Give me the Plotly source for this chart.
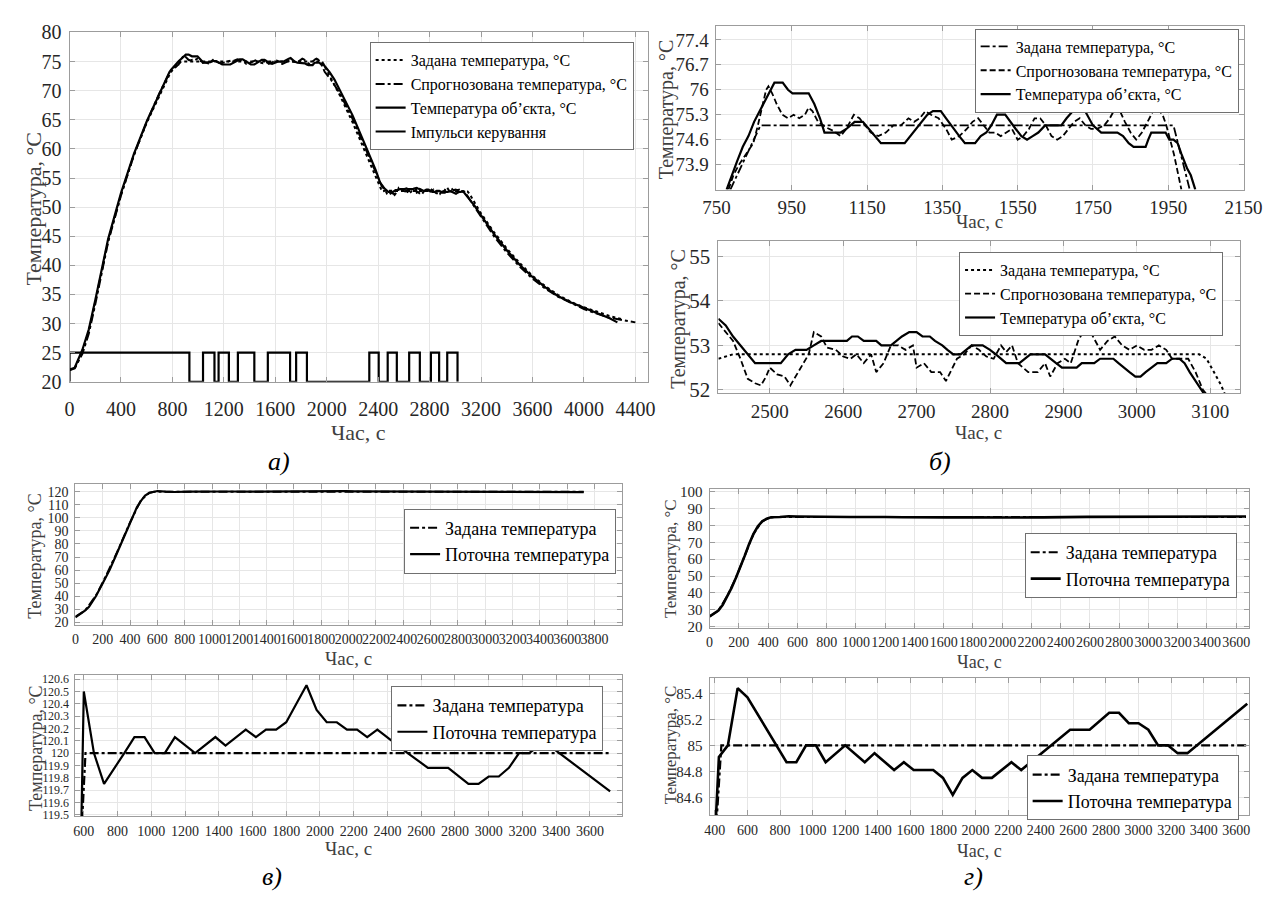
import plotly.graph_objects as go

W, H = 1282, 904
FONT = "Liberation Serif, Times New Roman, DejaVu Serif, serif"

# ---------------- Panel б (top): plateau at 75 °C ----------------
b1_obj_t = [777, 790, 805, 820, 835, 850, 865, 880, 895, 904, 926, 940, 952, 995, 1010, 1025, 1037,
            1080, 1095, 1117, 1139, 1155, 1170, 1187, 1250, 1265, 1280, 1295, 1310, 1325, 1346, 1360,
            1375, 1395, 1410, 1437, 1452, 1467, 1480, 1495, 1517, 1530, 1545, 1560, 1575, 1590, 1605,
            1623, 1666, 1680, 1695, 1705, 1719, 1735, 1750, 1772, 1815, 1830, 1845, 1858, 1890, 1897,
            1905, 1943, 1953, 1964, 1975, 1985, 2000, 2010, 2022]
b1_obj_v = [73.2, 73.6, 74.0, 74.4, 74.7, 75.1, 75.4, 75.7, 76.0, 76.2, 76.2, 76.0, 75.9, 75.9, 75.6,
            75.2, 74.8, 74.8, 74.9, 75.1, 75.1, 74.9, 74.7, 74.5, 74.5, 74.7, 74.9, 75.1, 75.3, 75.4,
            75.4, 75.2, 75.0, 74.7, 74.5, 74.5, 74.7, 74.8, 75.0, 75.3, 75.3, 75.1, 74.9, 74.7, 74.6,
            74.7, 74.8, 75.0, 75.0, 75.2, 75.4, 75.5, 75.6, 75.3, 75.0, 74.8, 74.8, 74.7, 74.5, 74.4,
            74.4, 74.6, 74.8, 74.8, 74.6, 74.6, 74.5, 74.2, 73.8, 73.6, 73.2]
b1_pred_t = [782, 795, 810, 830, 848, 860, 872, 882, 888, 898, 910, 925, 940, 955, 970, 985, 995, 1005,
             1020, 1040, 1060, 1080, 1095, 1115, 1130, 1145, 1160, 1180, 1200, 1220, 1240, 1260, 1275,
             1290, 1305, 1320, 1340, 1360, 1375, 1395, 1415, 1430, 1445, 1460, 1475, 1490, 1505, 1520,
             1535, 1550, 1565, 1580, 1595, 1610, 1625, 1640, 1655, 1670, 1685, 1700, 1715, 1730, 1745,
             1760, 1780, 1795, 1810, 1822, 1835, 1850, 1865, 1880, 1895, 1910, 1920, 1935, 1945, 1955,
             1965, 1975, 1985]
b1_pred_v = [73.2, 73.6, 73.9, 74.2, 74.5, 75.0, 75.6, 76.0, 76.1, 75.9, 75.6, 75.3, 75.2, 75.3, 75.2,
             75.3, 75.5, 75.4, 75.1, 74.95, 74.85, 74.7, 74.9, 75.3, 75.2, 75.0, 74.8, 74.7, 74.8, 75.0,
             75.0, 75.2, 75.1, 75.2, 75.4, 75.3, 75.2, 74.9, 74.6, 74.7, 74.9, 75.1, 75.2, 75.0, 74.8,
             74.8, 74.7, 74.8, 74.9, 74.6, 74.7, 74.9, 75.2, 75.2, 75.0, 74.7, 74.6, 74.7, 74.9, 75.1,
             75.2, 75.0, 74.9, 74.9, 75.0, 75.2, 75.5, 75.4, 75.1, 74.8, 74.6, 74.8, 75.1, 75.4, 75.5,
             75.3, 75.0, 74.6, 74.2, 73.7, 73.2]
b1_set_t = [787, 867, 1964, 2007]
b1_set_v = [73.2, 75.0, 75.0, 73.2]

# ---------------- Panel б (bottom): plateau at 52.8 °C ----------------
b2_obj_t = [2430, 2440, 2450, 2460, 2470, 2480, 2515, 2525, 2535, 2550, 2560, 2570, 2605, 2612, 2620,
            2628, 2645, 2652, 2665, 2672, 2680, 2690, 2700, 2708, 2718, 2725, 2735, 2742, 2750, 2760,
            2768, 2775, 2790, 2800, 2808, 2815, 2822, 2840, 2848, 2855, 2875, 2882, 2890, 2898, 2918,
            2925, 2942, 2950, 2968, 2975, 2982, 2990, 2998, 3005, 3012, 3020, 3028, 3040, 3048, 3058,
            3065, 3072, 3080, 3088, 3092]
b2_obj_v = [53.6, 53.45, 53.2, 53.0, 52.8, 52.6, 52.6, 52.8, 52.9, 52.9, 53.0, 53.1, 53.1, 53.2, 53.2,
            53.1, 53.1, 53.0, 53.0, 53.1, 53.2, 53.3, 53.3, 53.2, 53.2, 53.1, 53.0, 52.9, 52.8, 52.8,
            52.9, 53.0, 53.0, 52.9, 52.8, 52.7, 52.6, 52.6, 52.7, 52.8, 52.8, 52.7, 52.6, 52.5, 52.5,
            52.6, 52.6, 52.7, 52.7, 52.6, 52.5, 52.4, 52.3, 52.3, 52.4, 52.5, 52.6, 52.6, 52.7, 52.7,
            52.6, 52.4, 52.2, 52.0, 51.9]
b2_pred_t = [2430, 2440, 2450, 2460, 2470, 2480, 2488, 2495, 2500, 2510, 2520, 2528, 2535, 2545, 2553,
             2560, 2570, 2578, 2590, 2600, 2610, 2618, 2628, 2638, 2645, 2655, 2665, 2675, 2685, 2695,
             2700, 2710, 2720, 2732, 2740, 2755, 2765, 2775, 2785, 2795, 2805, 2815, 2822, 2830, 2838,
             2845, 2852, 2865, 2875, 2882, 2892, 2902, 2910, 2920, 2930, 2937, 2950, 2960, 2970, 2980,
             2990, 3000, 3010, 3020, 3030, 3040, 3048, 3070, 3080, 3090, 3095]
b2_pred_v = [53.5, 53.3, 53.1, 52.7, 52.25, 52.15, 52.1, 52.3, 52.5, 52.35, 52.3, 52.1, 52.3, 52.6, 52.8,
             53.3, 53.2, 52.95, 52.9, 52.75, 52.7, 52.8, 52.6, 52.8, 52.4, 52.6, 53.0, 53.0, 52.9, 53.0,
             52.5, 52.6, 52.4, 52.4, 52.2, 52.7, 52.8, 53.0, 52.9, 52.75, 52.7, 53.0, 52.85, 53.0, 52.6,
             52.5, 52.4, 52.4, 52.6, 52.3, 52.6, 52.7, 52.6, 53.1, 53.4, 53.3, 52.9, 53.1, 53.2, 53.0,
             52.9, 53.0, 52.9, 52.9, 53.0, 52.9, 52.7, 52.7, 52.4, 52.0, 51.9]
b2_set_t = [2430, 2450, 3085, 3095, 3105, 3115, 3120]
b2_set_v = [52.7, 52.8, 52.8, 52.7, 52.4, 52.1, 51.9]

# ---------------- Panel а: whole experiment ----------------
a_obj_ramp_t = [0, 40, 100, 150, 200, 250, 300, 400, 500, 600, 700, 760]
a_obj_ramp_v = [22.1, 22.4, 25.5, 29.0, 34.0, 39.5, 44.5, 52.4, 59.1, 64.7, 69.5, 72.5]
a_obj_desc_t = [2060, 2100, 2200, 2300, 2380, 2415]
a_obj_desc_v = [71.9, 70.2, 65.8, 60.6, 56.4, 54.2]
a_obj_tail_t = [3150, 3200, 3300, 3400, 3500, 3600, 3700, 3800, 3900, 4000, 4100, 4200, 4260]
a_obj_tail_v = [50.2, 48.6, 45.4, 42.6, 40.1, 38.0, 36.2, 34.7, 33.6, 32.7, 31.8, 30.9, 30.2]

a_pred_ramp_t = [0, 40, 100, 150, 200, 250, 300, 400, 500, 600, 700, 765]
a_pred_ramp_v = [22.0, 22.3, 24.8, 28.3, 33.3, 38.8, 44.0, 52.0, 58.9, 64.6, 69.6, 72.5]
a_pred_desc_t = [2030, 2100, 2200, 2300, 2380, 2420]
a_pred_desc_v = [72.0, 69.6, 65.2, 60.0, 55.8, 53.8]
a_pred_tail_t = [3150, 3200, 3300, 3400, 3500, 3600, 3700, 3800, 3900, 4000, 4100, 4200, 4300, 4400]
a_pred_tail_v = [50.0, 48.3, 45.0, 42.2, 39.8, 37.7, 36.0, 34.6, 33.5, 32.5, 31.7, 31.0, 30.6, 30.2]

a_set_ramp_t = [0, 40, 100, 150, 200, 250, 300, 400, 500, 600, 700, 780]
a_set_ramp_v = [22.0, 22.3, 25.2, 28.7, 33.7, 39.1, 44.2, 52.1, 58.9, 64.5, 69.3, 72.9]
a_set_desc_t = [2100, 2200, 2300, 2380, 2415]
a_set_desc_v = [69.3, 64.6, 59.4, 55.4, 53.4]
a_set_tail_t = [3200, 3300, 3400, 3500, 3600, 3700, 3800, 3900, 4000, 4100, 4200, 4300]
a_set_tail_v = [48.9, 45.7, 42.9, 40.4, 38.2, 36.4, 34.9, 33.7, 32.8, 32.0, 31.3, 30.7]

pulse_on = [(0, 932), (1038, 1127), (1159, 1239), (1309, 1437), (1542, 1715), (1762, 1846),
            (2331, 2404), (2474, 2545), (2641, 2724), (2810, 2874), (2937, 3017)]
pulse_low, pulse_high = 20, 25

# ---------------- Panel в: 120 °C ----------------
v_bot_t = [585, 600, 660, 720, 840, 900, 960, 1020, 1080, 1140, 1260, 1380, 1440, 1560, 1620, 1680,
           1740, 1800, 1920, 1980, 2040, 2100, 2160, 2220, 2280, 2340, 2520, 2640, 2760, 2880, 2940,
           3000, 3060, 3120, 3180, 3240, 3300, 3360, 3720]
v_bot_v = [119.4, 120.5, 120.0, 119.75, 120.0, 120.13, 120.13, 120.0, 120.0, 120.13, 120.0, 120.13,
           120.06, 120.19, 120.13, 120.19, 120.19, 120.25, 120.55, 120.35, 120.25, 120.25, 120.19,
           120.19, 120.13, 120.19, 120.0, 119.88, 119.88, 119.75, 119.75, 119.81, 119.81, 119.88,
           120.0, 120.0, 120.06, 120.06, 119.69]
v_set_t = [590, 610, 3720]
v_set_v = [119.45, 120.0, 120.0]
v_ramp_t = [0, 30, 70, 100, 150, 200, 250, 300, 350, 400, 450, 480, 510, 540, 570]
v_ramp_v = [24, 26, 29, 32, 40, 50, 60, 72, 84, 96, 108, 113, 117, 119, 119.8]
v_set_ramp_t = [0, 70, 150, 200, 300, 400, 480, 540, 575]
v_set_ramp_v = [24.5, 29, 40.5, 50.5, 72.5, 96.5, 113.5, 119.2, 119.9]

# ---------------- Panel г: 85 °C ----------------
g_bot_t = [405, 425, 480, 540, 600, 840, 900, 960, 1020, 1080, 1200, 1320, 1380, 1500, 1560, 1620,
           1740, 1800, 1860, 1920, 1980, 2040, 2100, 2220, 2280, 2580, 2700, 2820, 2880, 2940, 3000,
           3060, 3120, 3180, 3240, 3300, 3667]
g_bot_v = [84.4, 84.91, 85.0, 85.44, 85.37, 84.87, 84.87, 85.0, 85.0, 84.87, 85.0, 84.87, 84.94, 84.81,
           84.87, 84.81, 84.81, 84.75, 84.62, 84.75, 84.81, 84.75, 84.75, 84.87, 84.81, 85.12, 85.12,
           85.25, 85.25, 85.17, 85.17, 85.12, 85.0, 85.0, 84.94, 84.94, 85.32]
g_set_t = [410, 440, 3667]
g_set_v = [84.4, 85.0, 85.0]
g_ramp_t = [0, 30, 60, 90, 120, 150, 180, 210, 240, 270, 300, 330, 360, 390, 420]
g_ramp_v = [26, 27.5, 29.5, 33, 38, 43, 49, 55, 62, 69, 75, 79.5, 82.5, 84, 84.9]
g_set_ramp_t = [0, 60, 120, 180, 240, 300, 360, 400]
g_set_ramp_v = [26, 29.5, 38, 49, 62, 75, 82.5, 84.2]

# ---------------- assemble series ----------------
a_obj_t = a_obj_ramp_t + b1_obj_t + a_obj_desc_t + b2_obj_t + a_obj_tail_t
a_obj_v = a_obj_ramp_v + b1_obj_v + a_obj_desc_v + b2_obj_v + a_obj_tail_v
a_pred_t = a_pred_ramp_t + b1_pred_t + a_pred_desc_t + b2_pred_t + a_pred_tail_t
a_pred_v = a_pred_ramp_v + b1_pred_v + a_pred_desc_v + b2_pred_v + a_pred_tail_v
a_set_t = a_set_ramp_t + b1_set_t + a_set_desc_t + b2_set_t + a_set_tail_t
a_set_v = a_set_ramp_v + b1_set_v + a_set_desc_v + b2_set_v + a_set_tail_v
pulse_t, pulse_v = [], []
for s, e in pulse_on:
    pulse_t += [s, s, e, e]
    pulse_v += [pulse_low, pulse_high, pulse_high, pulse_low]

v_top_t = v_ramp_t + v_bot_t[1:]
v_top_v = v_ramp_v + v_bot_v[1:]
v_top_set_t = v_set_ramp_t + v_set_t[1:]
v_top_set_v = v_set_ramp_v + v_set_v[1:]
g_top_t = g_ramp_t + g_bot_t[2:]
g_top_v = g_ramp_v + g_bot_v[2:]
g_top_set_t = g_set_ramp_t + g_set_t[1:]
g_top_set_v = g_set_ramp_v + g_set_v[1:]

L_SET = "Задана температура, °C"
L_PRED = "Спрогнозована температура, °C"
L_OBJ = "Температура об’єкта, °C"
L_PULSE = "Імпульси керування"
L_SET2 = "Задана температура"
L_CUR = "Поточна температура"

fig = go.Figure()


def add(x, y, name, n, dash="solid", width=2.0, legend="legend"):
    fig.add_trace(go.Scatter(
        x=x, y=y, mode="lines", name=name,
        line=dict(color="black", width=width, dash=dash),
        xaxis="x" if n == 1 else f"x{n}", yaxis="y" if n == 1 else f"y{n}",
        legend=legend, hoverinfo="skip"))


# а
add(a_set_t, a_set_v, L_SET, 1, "dot", 2.0, "legend")
add(a_pred_t, a_pred_v, L_PRED, 1, "dashdot", 2.0, "legend")
add(a_obj_t, a_obj_v, L_OBJ, 1, "solid", 2.2, "legend")
add(pulse_t, pulse_v, L_PULSE, 1, "solid", 2.2, "legend")
# б top
add(b1_set_t, b1_set_v, L_SET, 2, "dashdot", 1.8, "legend2")
add(b1_pred_t, b1_pred_v, L_PRED, 2, "6px,3px", 1.8, "legend2")
add(b1_obj_t, b1_obj_v, L_OBJ, 2, "solid", 2.2, "legend2")
# б bottom
add(b2_set_t, b2_set_v, L_SET, 3, "dot", 2.0, "legend3")
add(b2_pred_t, b2_pred_v, L_PRED, 3, "6px,3px", 1.8, "legend3")
add(b2_obj_t, b2_obj_v, L_OBJ, 3, "solid", 2.2, "legend3")
# в top
add(v_top_set_t, v_top_set_v, L_SET2, 4, "dashdot", 2.0, "legend4")
add(v_top_t, v_top_v, L_CUR, 4, "solid", 2.2, "legend4")
# в bottom
add(v_set_t, v_set_v, L_SET2, 5, "dashdot", 2.2, "legend5")
add(v_bot_t, v_bot_v, L_CUR, 5, "solid", 2.2, "legend5")
# г top
add(g_top_set_t, g_top_set_v, L_SET2, 6, "dashdot", 2.0, "legend6")
add(g_top_t, g_top_v, L_CUR, 6, "solid", 2.6, "legend6")
# г bottom
add(g_set_t, g_set_v, L_SET2, 7, "dashdot", 2.2, "legend7")
add(g_bot_t, g_bot_v, L_CUR, 7, "solid", 2.6, "legend7")


def dx(l, r):
    return [l / W, r / W]


def dy(t, b):
    return [1 - b / H, 1 - t / H]


def ax(dom, rng, anchor, tickvals, ticktext=None, size=20, standoff=2):
    d = dict(domain=dom, range=rng, anchor=anchor, tickmode="array", tickvals=tickvals,
             showgrid=True, gridcolor="#e6e6e6", gridwidth=1, zeroline=False,
             showline=True, linecolor="#9c9c9c", linewidth=1, mirror="ticks",
             ticks="inside", ticklen=5, tickcolor="#9c9c9c", tickangle=0,
             ticklabelstandoff=standoff,
             tickfont=dict(family=FONT, size=size, color="#262626"), fixedrange=True)
    if ticktext is not None:
        d["ticktext"] = ticktext
    return d


layout = dict(width=W, height=H, margin=dict(l=0, r=0, t=0, b=0),
              paper_bgcolor="white", plot_bgcolor="white", showlegend=True)

panels = {
    1: dict(x=dx(57, 651), y=dy(22, 380), xr=[0, 4500], yr=[20, 80],
            xt=list(range(0, 4401, 400)), yt=list(range(20, 81, 5)), fs=20, yfs=20, xso=9),
    2: dict(x=dx(721, 1262), y=dy(15, 183), xr=[750, 2150], yr=[73.2, 77.8],
            xt=list(range(750, 2151, 200)), yt=[73.9, 74.6, 75.3, 76.0, 76.7, 77.4],
            ytt=["73.9", "74.6", "75.3", "76", "76.7", "77.4"], fs=19, yfs=19, xso=1),
    3: dict(x=dx(723, 1258), y=dy(236, 392), xr=[2430, 3140], yr=[51.92, 55.34],
            xt=list(range(2500, 3101, 100)), yt=[52, 53, 54, 55], fs=19, yfs=21, xso=1),
    4: dict(x=dx(63, 624), y=dy(485, 629), xr=[0, 4000], yr=[18.3, 125.7],
            xt=list(range(0, 3801, 200)), yt=list(range(20, 121, 10)), fs=14, yfs=14, xso=2),
    5: dict(x=dx(63, 624), y=dy(681, 825), xr=[550, 3790], yr=[119.49, 120.63],
            xt=list(range(600, 3601, 200)), yt=[119.5 + 0.1 * i for i in range(12)],
            ytt=["119.5", "119.6", "119.7", "119.8", "119.9", "120", "120.1", "120.2", "120.3",
                 "120.4", "120.5", "120.6"], fs=14, yfs=12, xso=2),
    6: dict(x=dx(714, 1268), y=dy(490, 632), xr=[0, 3690], yr=[19.4, 101.6],
            xt=list(range(0, 3601, 200)), yt=list(range(20, 101, 10)), fs=14, yfs=15, xso=2),
    7: dict(x=dx(714, 1268), y=dy(684, 824), xr=[368, 3680], yr=[84.465, 85.515],
            xt=list(range(400, 3601, 200)), yt=[84.6, 84.8, 85.0, 85.2, 85.4],
            ytt=["84.6", "84.8", "85", "85.2", "85.4"], fs=14, yfs=15, xso=2),
}
for n, p in panels.items():
    xs = "xaxis" if n == 1 else f"xaxis{n}"
    ys = "yaxis" if n == 1 else f"yaxis{n}"
    xa = "x" if n == 1 else f"x{n}"
    ya = "y" if n == 1 else f"y{n}"
    layout[xs] = ax(p["x"], p["xr"], ya, p["xt"], None, p["fs"], p["xso"])
    layout[ys] = ax(p["y"], p["yr"], xa, p["yt"], p.get("ytt"), p["yfs"], 3)


def leg(right, top, size, gap=2):
    return dict(x=right / W, y=1 - top / H, xanchor="right", yanchor="top",
                bgcolor="white", bordercolor="#707070", borderwidth=1,
                font=dict(family=FONT, size=size, color="black"),
                itemwidth=30, tracegroupgap=gap)


layout["legend"] = leg(636, 32, 16, 6)
layout["legend2"] = leg(1257, 18, 16)
layout["legend3"] = leg(1241, 247, 16)
layout["legend4"] = leg(618, 510, 18)
layout["legend5"] = leg(605, 692, 18)
layout["legend6"] = leg(1255, 535, 18)
layout["legend7"] = leg(1257, 763, 18)

ann = []


def text(x, y, s, size, angle=0, color="#404040", italic=False):
    ann.append(dict(x=x / W, y=1 - y / H, xref="paper", yref="paper", text=s, showarrow=False,
                    textangle=angle, xanchor="center", yanchor="middle",
                    font=dict(family=FONT, size=size, color=color,
                              style="italic" if italic else "normal")))


YT = "Температура, °C"
XT = "Час, с"
text(20, 202, YT, 22, -90)
text(670, 101, YT, 20, -90)
text(682, 315, YT, 20, -90)
text(22, 558, YT, 18, -90)
text(22, 755, YT, 18, -90)
text(674, 561, YT, 17, -90)
text(674, 752, YT, 17, -90)
text(354, 432, XT, 22)
text(991, 216, XT, 19)
text(990, 432, XT, 19)
text(343, 664, XT, 19)
text(343, 858, XT, 19)
text(991, 667, XT, 18)
text(991, 861, XT, 18)
text(272, 462, "а)", 26, 0, "black", True)
text(950, 462, "б)", 26, 0, "black", True)
text(265, 887, "в)", 26, 0, "black", True)
text(985, 887, "г)", 26, 0, "black", True)
layout["annotations"] = ann

fig.update_layout(**layout)
fig.write_html("out.html", post_script="document.body.style.margin='0';document.body.style.padding='0';")
